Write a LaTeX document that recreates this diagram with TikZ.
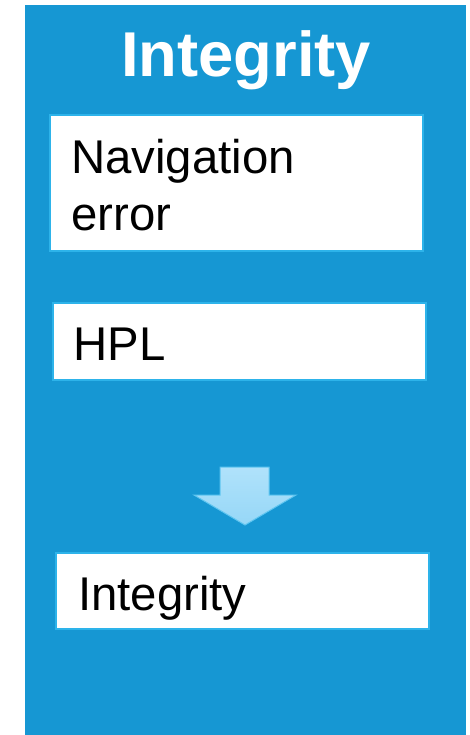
\documentclass[tikz,border=0pt]{standalone}
\usepackage{fontspec}
\setmainfont{Liberation Sans}
\definecolor{panelblue}{HTML}{1697D3}
\definecolor{boxedge}{HTML}{2DB3EA}
\definecolor{arrowtop}{HTML}{B0E2FB}
\definecolor{arrowbot}{HTML}{96D7F7}
\definecolor{arrowedge}{HTML}{5EC5F0}
\tikzset{
  panel/.style={fill=panelblue, draw=none, inner sep=0pt, minimum width=330.75pt, minimum height=547.5pt},
  whitebox/.style={fill=white, draw=boxedge, line width=1.5pt, inner sep=0pt, minimum width=279.75pt},
  boxtext/.style={anchor=base west, inner sep=0pt, text=black, font=\fontsize{35.5}{42.75}\selectfont},
  titletext/.style={anchor=base, inner sep=0pt, text=white, font=\fontsize{47.5}{55}\selectfont\bfseries},
  downarrow/.style={draw=arrowedge, line width=0.75pt, top color=arrowtop, bottom color=arrowbot}
}
\begin{document}
\begin{tikzpicture}[x=0.75pt,y=-0.75pt]
\useasboundingbox (0,0) rectangle (469,735);
\node[panel] (panel) at (245.5,370) {};
\node[titletext] (title) at (246,76) {Integrity};
\node[whitebox, minimum height=102pt] (b1) at (236.5,183) {};
\node[boxtext] (t1) at (71,173) {Navigation};
\node[boxtext] (t1b) at (71,230) {error};
\node[whitebox, minimum height=57.75pt] (b2) at (239.5,341.5) {};
\node[boxtext] (t2) at (73,360) {HPL};
\path[downarrow] (220,467) -- (269,467) -- (269,495) -- (296,495) -- (245,525) -- (194,495) -- (220,495) -- cycle;
\node[whitebox, minimum height=57pt] (b3) at (242,591) {};
\node[boxtext] (t3) at (78,610) {Integrity};
\end{tikzpicture}
\end{document}
